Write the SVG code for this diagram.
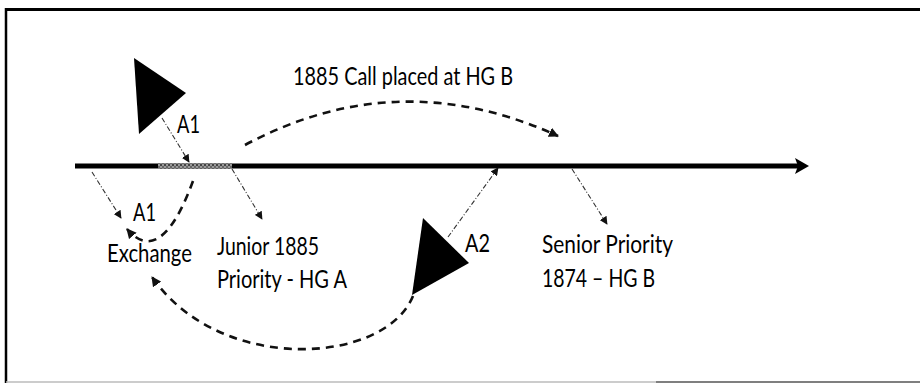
<svg xmlns="http://www.w3.org/2000/svg" width="920" height="383" viewBox="0 0 920 383">
<defs>
<style>
.t{font-family:Lato,"Liberation Sans",sans-serif;font-size:25px;fill:#000}
.thin{fill:none;stroke:#333;stroke-width:1.1;stroke-dasharray:5 2 1 2}
.arc{fill:none;stroke:#111;stroke-width:2.6;stroke-dasharray:8 6}
.tri{fill:#000}
</style>
<pattern id="speck" width="4" height="4" patternUnits="userSpaceOnUse">
<rect width="4" height="4" fill="#999"/>
<rect width="2" height="2" fill="#444"/>
<rect x="2" y="2" width="2" height="2" fill="#666"/>
</pattern>
<marker id="ah" viewBox="0 0 10 10" refX="9" refY="5" markerWidth="8" markerHeight="8" markerUnits="userSpaceOnUse" orient="auto">
<path d="M0,0 L10,5 L0,10 Z" fill="#111"/>
</marker>
<marker id="ahb" viewBox="0 0 10 10" refX="9" refY="5" markerWidth="10" markerHeight="10" markerUnits="userSpaceOnUse" orient="auto">
<path d="M0,0 L10,5 L0,10 Z" fill="#111"/>
</marker>
</defs>
<rect x="0" y="0" width="920" height="383" fill="#fff"/>
<g id="frame">
<line x1="5" y1="9.5" x2="920" y2="9.5" stroke="#000" stroke-width="3"/>
<line x1="6" y1="8" x2="6" y2="383" stroke="#000" stroke-width="2.5"/>
<line x1="6" y1="382" x2="656" y2="382" stroke="#bbb" stroke-width="1.5"/>
<line x1="656" y1="382" x2="920" y2="382" stroke="#555" stroke-width="1.5"/>
</g>
<g id="timeline">
<line x1="75" y1="166" x2="798" y2="166" stroke="#000" stroke-width="5"/>
<rect x="158" y="163.5" width="74" height="5" fill="url(#speck)"/>
<path d="M795,158 L809,166 L795,174 L798,166 Z" fill="#000"/>
</g>
<g id="connectors">
<line class="thin" x1="162" y1="118" x2="189" y2="162" marker-end="url(#ah)"/>
<line class="thin" x1="92" y1="172" x2="121" y2="218" marker-end="url(#ah)"/>
<line class="thin" x1="232" y1="169" x2="262" y2="219" marker-end="url(#ah)"/>
<line class="thin" x1="448" y1="237" x2="498" y2="168" marker-end="url(#ah)"/>
<line class="thin" x1="572" y1="169" x2="607" y2="224" marker-end="url(#ah)"/>
<path class="arc" d="M245,145 Q398,63 558,136" marker-end="url(#ahb)"/>
<path class="arc" d="M193,181 C178,222 155,262 127,229" marker-end="url(#ahb)"/>
<path class="arc" d="M413,296 C385,365 220,375 152,277" marker-end="url(#ahb)"/>
</g>
<g id="a1-upper">
<polygon class="tri" points="134,58 186,93 139,134"/>
<text class="t" x="177" y="133" textLength="23" lengthAdjust="spacingAndGlyphs">A1</text>
</g>
<g id="call-label">
<text class="t" x="293" y="85" textLength="220" lengthAdjust="spacingAndGlyphs">1885 Call placed at HG B</text>
</g>
<g id="exchange">
<text class="t" x="133" y="221" textLength="23" lengthAdjust="spacingAndGlyphs">A1</text>
<text class="t" x="107" y="262" textLength="85" lengthAdjust="spacingAndGlyphs">Exchange</text>
</g>
<g id="junior">
<text class="t" x="217" y="255" textLength="102" lengthAdjust="spacingAndGlyphs">Junior 1885</text>
<text class="t" x="217" y="288" textLength="130" lengthAdjust="spacingAndGlyphs">Priority - HG A</text>
</g>
<g id="a2">
<polygon class="tri" points="423,218 469,263 412,295"/>
<text class="t" x="465" y="252" textLength="25" lengthAdjust="spacingAndGlyphs">A2</text>
</g>
<g id="senior">
<text class="t" x="542" y="253" textLength="131" lengthAdjust="spacingAndGlyphs">Senior Priority</text>
<text class="t" x="542" y="287" textLength="113" lengthAdjust="spacingAndGlyphs">1874 – HG B</text>
</g>
</svg>
